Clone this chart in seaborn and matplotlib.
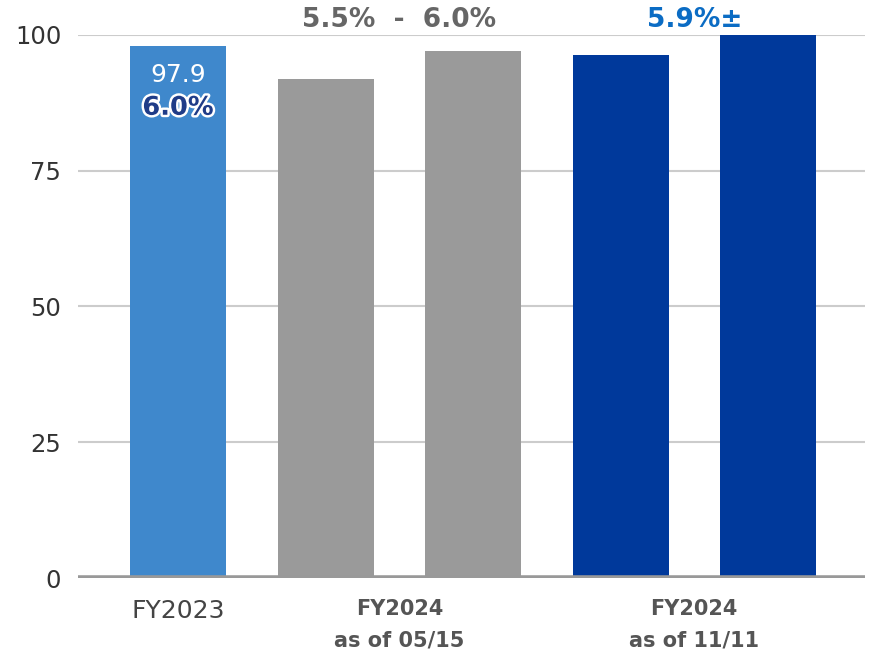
import matplotlib
matplotlib.use("Agg")
import matplotlib.pyplot as plt
import matplotlib.patheffects as pe
import pandas as pd
import seaborn as sns

# Bars (two bars per FY2024 forecast: low/high of the range)
bar_ids = ["FY2023", "0515_low", "0515_high", "1111_low", "1111_high"]
values = [97.9, 91.9, 97.0, 96.3, 100.0]
colors = ["#3F88CC", "#9A9A9A", "#9A9A9A", "#00399B", "#00399B"]

group_labels = ["FY2023", "FY2024\nas of 05/15", "FY2024\nas of 11/11"]
group_bold = [False, True, True]
y_ticks = [0, 25, 50, 75, 100]

fy2023_value_label = "97.9"
fy2023_rate = "6.0%"
range_0515 = "5.5%  -  6.0%"
guide_1111 = "5.9%±"

df = pd.DataFrame({"bar": bar_ids, "value": values})

sns.set_style("white")
plt.rcParams["font.family"] = ["DejaVu Sans"]

fig = plt.figure(figsize=(8.75, 6.54), dpi=100)
ax = fig.add_axes([0.089, 0.1162, 0.90, 0.8303])

sns.barplot(data=df, x="bar", y="value", hue="bar", palette=colors,
            legend=False, width=0.65, saturation=1, linewidth=0, ax=ax)

ax.set_ylim(0, 100)
ax.set_xlim(-0.68, 4.66)
ax.set_yticks(y_ticks)
ax.set_yticklabels([str(t) for t in y_ticks], fontsize=17.5, color="#333333")
for t in y_ticks[1:]:
    ax.axhline(t, color="#CCCCCC", lw=1.5, zorder=0)
ax.axhline(0, color="#999999", lw=4, zorder=3)
for s in ax.spines.values():
    s.set_visible(False)
ax.tick_params(axis="y", length=0, pad=12)
ax.tick_params(axis="x", length=0, pad=15)
ax.set_xlabel("")
ax.set_ylabel("")

# group labels centred under each group of bars
ax.set_xticks([0, 1.5, 3.5])
ax.set_xticklabels(group_labels, fontsize=15, color="#555555", linespacing=1.75)
for lbl, b in zip(ax.get_xticklabels(), group_bold):
    if b:
        lbl.set_fontweight("bold")
    else:
        lbl.set_fontsize(18)
        lbl.set_color("#444444")

# annotations
ax.text(0, 92.6, fy2023_value_label, ha="center", va="center",
        color="white", fontsize=18)
ax.text(0, 86.6, fy2023_rate, ha="center", va="center", color="#1F3C88",
        fontsize=18.5, fontweight="bold",
        path_effects=[pe.withStroke(linewidth=3.5, foreground="white")])
ax.text(1.5, 102.8, range_0515, ha="center", va="center", color="#666666",
        fontsize=19, fontweight="bold", clip_on=False)
ax.text(3.5, 102.8, guide_1111, ha="center", va="center", color="#0B6CC4",
        fontsize=19, fontweight="bold", clip_on=False)

fig.savefig("out.png", dpi=100)
